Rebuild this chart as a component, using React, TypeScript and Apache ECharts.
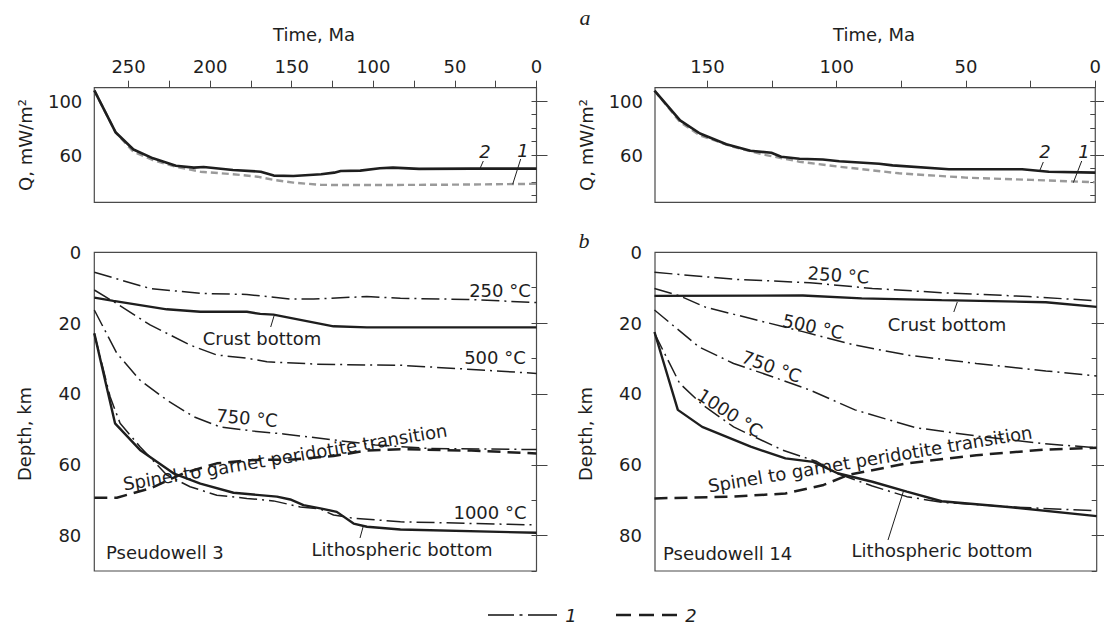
import React, { useEffect, useRef } from "react";
import * as echarts from "echarts";

// ---------- data ----------
// top-left (pseudowell 3): heat flow Q, mW/m2 vs time, Ma
const tlTimeCurve2 = [271, 258, 247, 235, 221, 210, 204, 186, 169, 161, 149, 132, 124, 120, 108, 96, 88, 72, 40, 0];
const tlQCurve2 = [108, 77, 64.2, 57.6, 52.1, 50.7, 51.2, 49, 47.7, 44.8, 44.5, 45.8, 47, 48.2, 48.5, 50.2, 50.7, 49.8, 50, 50];
const tlTimeCurve1 = [271, 258, 247, 235, 221, 206, 186, 171, 161, 149, 132, 100, 60, 0];
const tlQCurve1 = [108, 77, 62.4, 56.3, 51.4, 47.7, 45.8, 44, 41.6, 39.6, 37.9, 37.8, 38, 38.7];

// top-right (pseudowell 14)
const trTimeCurve2 = [170.5, 160.6, 152.9, 142.7, 133.4, 125.3, 121.5, 114.4, 105.4, 99, 83.6, 78.4, 56.6, 28.3, 18, 0];
const trQCurve2 = [107.9, 85.8, 76, 68.1, 63.2, 61.7, 58.8, 57.3, 56.8, 55.4, 53.6, 52.4, 49.5, 49.5, 47.7, 47];
const trTimeCurve1 = [170.5, 160.6, 153, 140, 127.3, 114.4, 99, 75.9, 50.1, 24.5, 0];
const trQCurve1 = [107.9, 84.5, 74.7, 66.1, 60, 55.1, 51.4, 46.5, 43.3, 41.6, 39.9];

// bottom-left (pseudowell 3): depth, km vs time, Ma
const blTime250 = [271, 237, 206, 177.5, 151, 136.6, 104, 83.4, 42.3, 0];
const blDepth250 = [5.65, 10.2, 11.6, 11.9, 13.2, 13.2, 12.5, 13, 13.3, 14.2];
const blTimeCrust = [271, 259.3, 226.6, 206, 177.5, 169.3, 161.2, 124.4, 103.9, 0];
const blDepthCrust = [12.8, 13.7, 16.1, 16.8, 16.8, 17.4, 17.6, 20.9, 21.2, 21.2];
const blTime500 = [271, 259.3, 236.8, 212.3, 195.9, 177.5, 165.2, 134.5, 103.9, 83.4, 42.3, 0];
const blDepth500 = [10.65, 13.9, 20.5, 26.2, 29, 29.9, 30.9, 31.6, 31.8, 31.9, 33, 34.2];
const blTime750 = [271, 257.2, 243, 226.6, 210.2, 193.9, 173.4, 155, 98.8, 65.9, 0];
const blDepth750 = [16.3, 28.5, 36.1, 41.7, 46.4, 49.3, 50.5, 51.3, 54.4, 55.4, 55.7];
const blTime1000 = [271, 261.3, 255.2, 243, 226.6, 212.3, 195.9, 177.5, 161.2, 144.8, 132.5, 124.4, 112.1, 83.4, 0];
const blDepth1000 = [22.9, 40.8, 48.3, 54.9, 62.9, 66.2, 68.6, 69.5, 70.2, 71.9, 72.5, 74.2, 75.1, 76.1, 77];
const blTimeLitho = [271, 258.3, 243, 222.5, 206, 185.7, 159.1, 150.9, 142.8, 132.5, 122.4, 112.1, 103.9, 83.4, 0];
const blDepthLitho = [22.9, 48.3, 55.8, 62.4, 65.3, 67.9, 69, 69.8, 71.4, 72.3, 73.3, 76.6, 77.5, 78.3, 79.2];
const blTimeSpinel = [271, 257.2, 236.8, 216.4, 195.9, 175.5, 148.9, 124.4, 103.9, 83.4, 40, 0];
const blDepthSpinel = [69.3, 69.3, 66.7, 62.4, 59.6, 58.7, 58.5, 57.5, 56, 55.6, 56, 56.8];

// bottom-right (pseudowell 14)
const brTime250 = [170.5, 140, 110.6, 86.5, 59.8, 26.3, 0];
const brDepth250 = [5.65, 7.6, 8.6, 10.2, 11.4, 12.5, 13.7];
const brTimeCrust = [170.5, 113.3, 90.6, 59.8, 19.6, 0];
const brDepthCrust = [12.3, 12.2, 13, 13.5, 14.1, 15.4];
const brTime500 = [170.5, 160.8, 150.8, 133.4, 113.3, 93.2, 73.2, 46.4, 19.6, 0];
const brDepth500 = [10.2, 12.3, 15.5, 18.7, 22.4, 26.2, 29, 31.4, 33.5, 34.9];
const brTime750 = [170.5, 153.4, 140, 126.7, 110.6, 93.2, 70, 45, 21, 0];
const brDepth750 = [16.3, 26.7, 31.4, 34.7, 38.9, 44.5, 49.5, 52, 54, 55.2];
const brTime1000 = [170.5, 160.8, 152.1, 140, 132, 121.3, 107.9, 99.9, 86.5, 73.2, 59.8, 33, 0];
const brDepth1000 = [22.9, 37, 43, 49.3, 52.1, 55.8, 59.1, 62.5, 66, 69, 70.6, 71.9, 73];
const brTimeLitho = [170.5, 161.5, 152.1, 133.4, 120, 109.3, 99.9, 86.5, 73.2, 59.8, 33, 0];
const brDepthLitho = [22.5, 44.5, 49.3, 54.9, 58.2, 59.2, 62.4, 64.8, 67.6, 70.3, 72, 74.5];
const brTimeSpinel = [170.5, 140, 120, 105.3, 95.9, 73.2, 46.4, 19.6, 0];
const brDepthSpinel = [69.5, 69, 68.1, 65.7, 62.9, 59.6, 57.3, 55.7, 55.2];

// axis ticks / labels
const tlTimeTicks = [0, 25, 50, 75, 100, 125, 150, 175, 200, 225, 250];
const tlTimeLabels = [0, 50, 100, 150, 200, 250];
const trTimeTicks = [0, 25, 50, 75, 100, 125, 150];
const trTimeLabels = [0, 50, 100, 150];
const qTicks = [30, 40, 50, 60, 70, 80, 90, 100, 110];
const qLabels = [60, 100];
const depthTicks = [10, 20, 30, 40, 50, 60, 70, 80, 90];
const depthLabels = [0, 20, 40, 60, 80];
const depthMajor = [20, 40, 60, 80];

// ---------- styles ----------
const FONT = '"DejaVu Sans", Verdana, sans-serif';
const INK = "#1e1e1e";
const DASHDOT = [18, 5, 2, 5];

const pts = (t: number[], v: number[]) => t.map((x, i) => [x, v[i]]);

function line(name: string, xi: number, yi: number, t: number[], v: number[], style: any) {
  return {
    name,
    type: "line",
    xAxisIndex: xi,
    yAxisIndex: yi,
    data: pts(t, v),
    showSymbol: false,
    symbol: "none",
    silent: true,
    lineStyle: style,
  };
}

const solidStyle = { color: INK, width: 2.4, type: "solid" };
const q2Style = { color: INK, width: 2.6, type: "solid" };
const q1Style = { color: "#9a9a9a", width: 2.4, type: [7, 4] };
const isoStyle = { color: INK, width: 1.5, type: DASHDOT };
const spinelStyle = { color: INK, width: 2.5, type: [13, 7] };

function txt(text: string, x: number, y: number, opts: any = {}) {
  return {
    type: "text",
    x,
    y,
    rotation: opts.rotation || 0,
    z: 10,
    style: {
      text,
      fill: INK,
      font: opts.font || `18px ${FONT}`,
      align: opts.align || "center",
      verticalAlign: "middle",
    },
  };
}

function seg(x1: number, y1: number, x2: number, y2: number, dash?: number[], w = 1) {
  return {
    type: "line",
    z: 10,
    shape: { x1, y1, x2, y2 },
    style: { stroke: INK, lineWidth: w, lineDash: dash || null },
  };
}

const deg = (d: number) => (d * Math.PI) / 180;

export default function App() {
  const ref = useRef<HTMLDivElement>(null);

  useEffect(() => {
    document.body.style.margin = "0";
    const chart = echarts.init(ref.current!, null, { renderer: "svg" });

    const grids = [
      { left: 94.3, top: 87.7, width: 442.2, height: 114.6 },
      { left: 655, top: 87.7, width: 441.7, height: 114.6 },
      { left: 94.3, top: 252.3, width: 442.2, height: 318.7 },
      { left: 655, top: 252.3, width: 441.7, height: 318.7 },
    ].map((g) => ({ ...g, show: true, borderColor: "#4a4a4a", borderWidth: 1.2, backgroundColor: "transparent" }));

    const labelStyle = { fontFamily: FONT, fontSize: 18, color: INK };

    const topX = (gi: number, max: number, ticks: number[], labels: number[]) => ({
      gridIndex: gi,
      type: "value",
      position: "top",
      inverse: true,
      min: 0,
      max,
      interval: 25,
      axisLine: { show: false },
      splitLine: { show: false },
      axisTick: { show: true, length: 7, lineStyle: { color: "#444", width: 1 }, customValues: ticks },
      axisLabel: {
        ...labelStyle,
        margin: 12,
        customValues: labels,
        formatter: (v: number) => (v % 50 === 0 ? String(v) : ""),
      },
    });
    const bottomX = (gi: number, max: number) => ({
      gridIndex: gi,
      type: "value",
      inverse: true,
      min: 0,
      max,
      show: false,
    });

    const qY = (gi: number) => ({
      gridIndex: gi,
      type: "value",
      min: 25,
      max: 110,
      axisLine: { show: false },
      splitLine: { show: false },
      axisTick: { show: true, length: 5, lineStyle: { color: "#444", width: 1 }, customValues: qTicks },
      axisLabel: { ...labelStyle, margin: 12, customValues: qLabels },
    });
    const qYMajor = (gi: number) => ({
      gridIndex: gi,
      type: "value",
      min: 25,
      max: 110,
      axisLine: { show: false },
      splitLine: { show: false },
      axisTick: { show: true, length: 11, lineStyle: { color: "#444", width: 1 }, customValues: qLabels },
      axisLabel: { show: false },
    });
    const dY = (gi: number) => ({
      gridIndex: gi,
      type: "value",
      inverse: true,
      min: 0,
      max: 90,
      interval: 10,
      axisLine: { show: false },
      splitLine: { show: false },
      axisTick: { show: true, length: 5, lineStyle: { color: "#444", width: 1 }, customValues: depthTicks },
      axisLabel: {
        ...labelStyle,
        margin: 13,
        customValues: depthLabels,
        formatter: (v: number) => (v % 20 === 0 ? String(v) : ""),
      },
    });
    const dYMajor = (gi: number) => ({
      gridIndex: gi,
      type: "value",
      inverse: true,
      min: 0,
      max: 90,
      axisLine: { show: false },
      splitLine: { show: false },
      axisTick: { show: true, length: 11, lineStyle: { color: "#444", width: 1 }, customValues: depthMajor },
      axisLabel: { show: false },
    });

    const series = [
      // top-left
      line("TL 1", 0, 0, tlTimeCurve1, tlQCurve1, q1Style),
      line("TL 2", 0, 0, tlTimeCurve2, tlQCurve2, q2Style),
      // top-right
      line("TR 1", 1, 1, trTimeCurve1, trQCurve1, q1Style),
      line("TR 2", 1, 1, trTimeCurve2, trQCurve2, q2Style),
      // bottom-left
      line("BL 250", 2, 2, blTime250, blDepth250, isoStyle),
      line("BL crust", 2, 2, blTimeCrust, blDepthCrust, solidStyle),
      line("BL 500", 2, 2, blTime500, blDepth500, isoStyle),
      line("BL 750", 2, 2, blTime750, blDepth750, isoStyle),
      line("BL 1000", 2, 2, blTime1000, blDepth1000, isoStyle),
      line("BL litho", 2, 2, blTimeLitho, blDepthLitho, solidStyle),
      line("BL spinel", 2, 2, blTimeSpinel, blDepthSpinel, spinelStyle),
      // bottom-right
      line("BR 250", 3, 3, brTime250, brDepth250, isoStyle),
      line("BR crust", 3, 3, brTimeCrust, brDepthCrust, solidStyle),
      line("BR 500", 3, 3, brTime500, brDepth500, isoStyle),
      line("BR 750", 3, 3, brTime750, brDepth750, isoStyle),
      line("BR 1000", 3, 3, brTime1000, brDepth1000, isoStyle),
      line("BR litho", 3, 3, brTimeLitho, brDepthLitho, solidStyle),
      line("BR spinel", 3, 3, brTimeSpinel, brDepthSpinel, spinelStyle),
    ];

    const italicSerif = 'italic 22px "Liberation Serif", "DejaVu Serif", serif';
    const italicSans = `italic 18px ${FONT}`;

    const graphic = [
      // panel letters
      txt("a", 585, 17, { font: italicSerif }),
      txt("b", 584, 240, { font: italicSerif }),
      // axis names
      txt("Time, Ma", 314, 34),
      txt("Time, Ma", 874, 34),
      txt("Q, mW/m²", 25, 145, { rotation: deg(90) }),
      txt("Q, mW/m²", 586, 145, { rotation: deg(90) }),
      txt("Depth, km", 24, 434, { rotation: deg(90) }),
      txt("Depth, km", 585, 434, { rotation: deg(90) }),
      // top curve labels
      txt("2", 485, 151, { font: italicSans }),
      seg(483.3, 161, 480, 168.5),
      txt("1", 523, 150, { font: italicSans }),
      seg(520.7, 159, 512.7, 184.3),
      txt("2", 1045, 151, { font: italicSans }),
      seg(1043.3, 162, 1040, 170),
      txt("1", 1084, 151, { font: italicSans }),
      seg(1081.7, 161, 1073.3, 182.7),
      // bottom-left labels
      txt("250 °C", 500, 290),
      txt("Crust bottom", 262, 338),
      seg(274, 316, 270.7, 327),
      txt("500 °C", 495, 357.5),
      txt("750 °C", 247, 418, { rotation: deg(-5) }),
      txt("Spinel to garnet peridotite transition", 285, 457, { rotation: deg(9.5) }),
      txt("1000 °C", 490, 512.5),
      txt("Lithospheric bottom", 402, 549),
      seg(363.3, 526, 360, 538),
      txt("Pseudowell 3", 106, 552, { align: "left" }),
      // bottom-right labels
      txt("250 °C", 838.5, 275, { rotation: deg(-4) }),
      txt("Crust bottom", 947, 324),
      seg(957.3, 302, 953.8, 312),
      txt("500 °C", 813, 326.5, { rotation: deg(-12) }),
      txt("750 °C", 771.5, 366.5, { rotation: deg(-20) }),
      txt("1000 °C", 730, 413, { rotation: deg(-33) }),
      txt("Spinel to garnet peridotite transition", 870, 459, { rotation: deg(9.5) }),
      txt("Lithospheric bottom", 942, 550),
      seg(903.5, 491, 888, 540),
      txt("Pseudowell 14", 663, 553, { align: "left" }),
      // legend
      seg(488, 615, 514, 615, undefined, 1.6),
      seg(519.5, 615, 522.5, 615, undefined, 1.6),
      seg(528, 615, 557, 615, undefined, 1.6),
      txt("1", 571, 615, { font: italicSans }),
      seg(616, 615, 677, 615, [15, 8], 2.6),
      txt("2", 691, 615, { font: italicSans }),
    ];

    chart.setOption({
      animation: false,
      backgroundColor: "#ffffff",
      grid: grids,
      xAxis: [topX(0, 271, tlTimeTicks, tlTimeLabels), topX(1, 170.3, trTimeTicks, trTimeLabels), bottomX(2, 271), bottomX(3, 170.3)],
      yAxis: [qY(0), qY(1), dY(2), dY(3), qYMajor(0), qYMajor(1), dYMajor(2), dYMajor(3)],
      series,
      graphic,
    });

    return () => chart.dispose();
  }, []);

  return <div ref={ref} style={{ width: 1104, height: 625 }} />;
}
